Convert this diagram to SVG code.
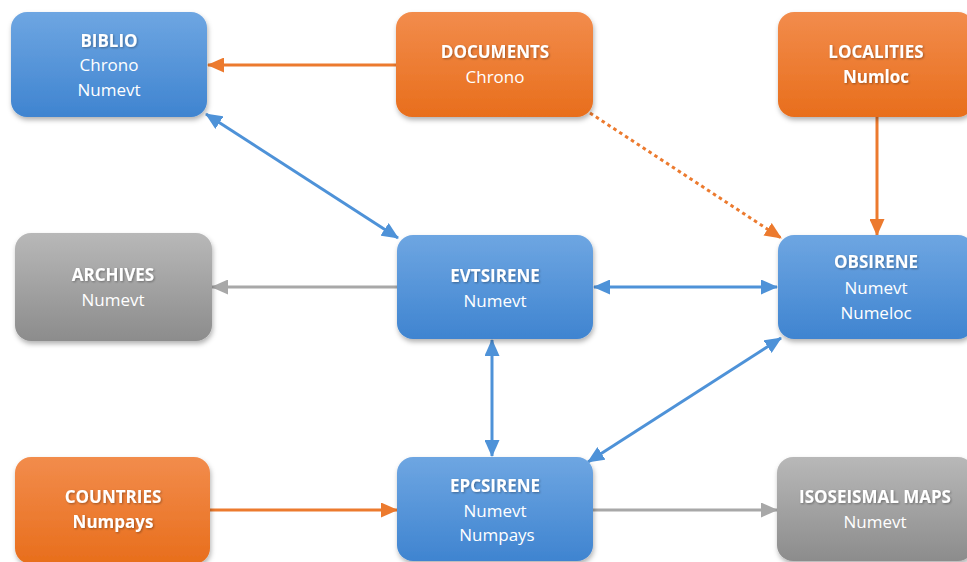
<svg xmlns="http://www.w3.org/2000/svg" width="967" height="562" viewBox="0 0 967 562">
<style>
  .box { stroke: none; filter: url(#shadow); }
  .blue { fill: url(#gBlue); }
  .orange { fill: url(#gOrange); }
  .gray { fill: url(#gGray); }
  text { font-family: "Open Sans", "Liberation Sans", sans-serif; font-size: 17px; fill: #ffffff; text-anchor: middle; }
  .t { font-weight: bold; filter: url(#tshadow); }
  .c { fill: none; stroke-width: 3; }
  .cb { stroke: #4e92d8; }
  .co { stroke: #ec7a2e; }
  .cg { stroke: #a8a8a8; }
</style>
<defs>
  <linearGradient id="gBlue" x1="0" y1="0" x2="0" y2="1">
    <stop offset="0" stop-color="#6ea6e2"/>
    <stop offset="1" stop-color="#3f84d0"/>
  </linearGradient>
  <linearGradient id="gOrange" x1="0" y1="0" x2="0" y2="1">
    <stop offset="0" stop-color="#f28c4c"/>
    <stop offset="1" stop-color="#e86e1c"/>
  </linearGradient>
  <linearGradient id="gGray" x1="0" y1="0" x2="0" y2="1">
    <stop offset="0" stop-color="#b8b8b8"/>
    <stop offset="1" stop-color="#8c8c8c"/>
  </linearGradient>
  <filter id="shadow" x="-10%" y="-10%" width="125%" height="130%">
    <feDropShadow dx="1" dy="3" stdDeviation="2.5" flood-color="#000" flood-opacity="0.3"/>
  </filter>
  <filter id="tshadow" x="-10%" y="-30%" width="120%" height="160%">
    <feDropShadow dx="1" dy="1" stdDeviation="0.8" flood-color="#000" flood-opacity="0.35"/>
  </filter>
  <marker id="aBlue" markerUnits="userSpaceOnUse" markerWidth="17" markerHeight="15" refX="16" refY="7.5" orient="auto-start-reverse" viewBox="0 0 17 15">
    <path d="M0,0 L17,7.5 L0,15 z" fill="#4e92d8"/>
  </marker>
  <marker id="aOrange" markerUnits="userSpaceOnUse" markerWidth="17" markerHeight="15" refX="16" refY="7.5" orient="auto-start-reverse" viewBox="0 0 17 15">
    <path d="M0,0 L17,7.5 L0,15 z" fill="#ec7a2e"/>
  </marker>
  <marker id="aGray" markerUnits="userSpaceOnUse" markerWidth="17" markerHeight="15" refX="16" refY="7.5" orient="auto-start-reverse" viewBox="0 0 17 15">
    <path d="M0,0 L17,7.5 L0,15 z" fill="#a8a8a8"/>
  </marker>
</defs>
<rect width="967" height="562" fill="#ffffff"/>

<g id="connectors">
  <line class="c co" x1="396" y1="65" x2="208" y2="65" marker-end="url(#aOrange)"/>
  <line class="c cb" x1="206" y1="114" x2="398" y2="238" marker-start="url(#aBlue)" marker-end="url(#aBlue)"/>
  <line class="c co" x1="590" y1="113" x2="781" y2="238" stroke-width="3.5" stroke-dasharray="3.5 3.5" marker-end="url(#aOrange)"/>
  <line class="c co" x1="877" y1="117" x2="877" y2="235" marker-end="url(#aOrange)"/>
  <line class="c cg" x1="397" y1="287" x2="212" y2="287" marker-end="url(#aGray)"/>
  <line class="c cb" x1="594" y1="287" x2="777" y2="287" marker-start="url(#aBlue)" marker-end="url(#aBlue)"/>
  <line class="c cb" x1="492" y1="340" x2="492" y2="456" marker-start="url(#aBlue)" marker-end="url(#aBlue)"/>
  <line class="c cb" x1="781" y1="338" x2="588" y2="462" marker-start="url(#aBlue)" marker-end="url(#aBlue)"/>
  <line class="c co" x1="210" y1="510" x2="397" y2="510" marker-end="url(#aOrange)"/>
  <line class="c cg" x1="593" y1="510" x2="777" y2="510" marker-end="url(#aGray)"/>
</g>

<g id="biblio">
  <rect class="box blue" x="11" y="12" width="196" height="105" rx="16"/>
  <text class="t" x="109" y="47">BIBLIO</text>
  <text x="109" y="71">Chrono</text>
  <text x="109" y="96">Numevt</text>
</g>
<g id="documents">
  <rect class="box orange" x="396" y="12" width="197" height="105" rx="16"/>
  <text class="t" x="495" y="58">DOCUMENTS</text>
  <text x="495" y="83">Chrono</text>
</g>
<g id="localities">
  <rect class="box orange" x="778" y="12" width="196" height="105" rx="16"/>
  <text class="t" x="876" y="58">LOCALITIES</text>
  <text class="t" x="876" y="83">Numloc</text>
</g>
<g id="archives">
  <rect class="box gray" x="15" y="233" width="197" height="108" rx="16"/>
  <text class="t" x="113" y="281">ARCHIVES</text>
  <text x="113" y="306">Numevt</text>
</g>
<g id="evtsirene">
  <rect class="box blue" x="397" y="235" width="196" height="104" rx="16"/>
  <text class="t" x="495" y="282">EVTSIRENE</text>
  <text x="495" y="307">Numevt</text>
</g>
<g id="obsirene">
  <rect class="box blue" x="778" y="235" width="196" height="104" rx="16"/>
  <text class="t" x="876" y="268">OBSIRENE</text>
  <text x="876" y="294">Numevt</text>
  <text x="876" y="319">Numeloc</text>
</g>
<g id="countries">
  <rect class="box orange" x="15" y="457" width="195" height="107" rx="16"/>
  <text class="t" x="113" y="503">COUNTRIES</text>
  <text class="t" x="113" y="528">Numpays</text>
</g>
<g id="epcsirene">
  <rect class="box blue" x="397" y="457" width="196" height="104" rx="16"/>
  <text class="t" x="495" y="492">EPCSIRENE</text>
  <text x="495" y="517">Numevt</text>
  <text x="497" y="541">Numpays</text>
</g>
<g id="isoseismal">
  <rect class="box gray" x="777" y="457" width="197" height="104" rx="16"/>
  <text class="t" x="875" y="503">ISOSEISMAL MAPS</text>
  <text x="875" y="528">Numevt</text>
</g>
</svg>
